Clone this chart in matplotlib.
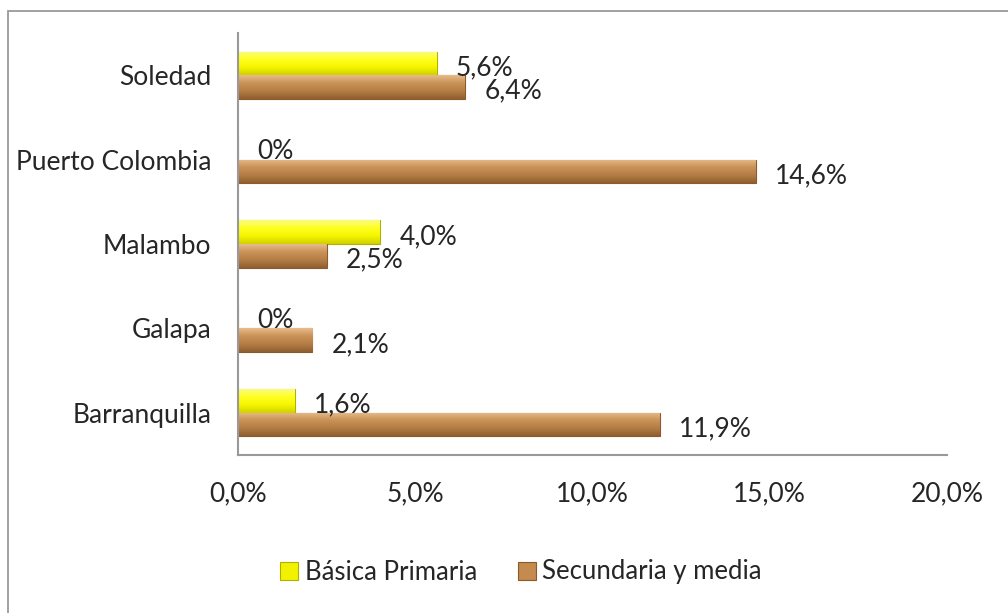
import numpy as np
import matplotlib
matplotlib.use("Agg")
import matplotlib.pyplot as plt
from matplotlib.colors import LinearSegmentedColormap
from matplotlib.patches import Rectangle

# data (percent)
ciudades = ["Barranquilla", "Galapa", "Malambo", "Puerto Colombia", "Soledad"]
basica = [1.6, 0.0, 4.0, 0.0, 5.6]
secundaria = [11.9, 2.1, 2.5, 14.6, 6.4]
lbl_basica = ["1,6%", "0%", "4,0%", "0%", "5,6%"]
lbl_secundaria = ["11,9%", "2,1%", "2,5%", "14,6%", "6,4%"]
xticks = [0, 5, 10, 15, 20]
xtick_labels = ["0,0%", "5,0%", "10,0%", "15,0%", "20,0%"]

plt.rcParams['font.family'] = ['Lato', 'DejaVu Sans']
txt = '#262626'
fs = 19

fig = plt.figure(figsize=(10.08, 6.13), dpi=100)
ax = fig.add_axes([238/1008, 1 - 455/613, (947 - 238)/1008, (455 - 33)/613])

# outer chart frame (runs off the right/bottom edge like the original)
fig.patches.append(Rectangle((8/1008, -0.2), 1.2, 1.2 - 11/613, transform=fig.transFigure,
                             fill=False, edgecolor='#9a9a9a', lw=1.3))

y = np.arange(len(ciudades))
h = 0.28
b1 = ax.barh(y + h/2, basica, height=h, color='#f2f200', edgecolor='#b0b000', lw=0.8, zorder=2)
b2 = ax.barh(y - h/2, secundaria, height=h, color='#c48a4f', edgecolor='#8a5a2c', lw=0.8, zorder=2)

# soft vertical gradient on the bars
cm_yel = LinearSegmentedColormap.from_list('y', ['#d0d000', '#f5f500', '#ffff20', '#fbfb80'])
cm_brn = LinearSegmentedColormap.from_list('b', ['#8f5f30', '#b57d45', '#c99257', '#e8bb8a'])
grad = np.linspace(0, 1, 64).reshape(-1, 1)
for bars, cm in ((b1, cm_yel), (b2, cm_brn)):
    for p in bars:
        x0, y0 = p.get_x(), p.get_y()
        w, hh = p.get_width(), p.get_height()
        if w <= 0:
            continue
        im = ax.imshow(grad, cmap=cm, aspect='auto', origin='lower',
                       extent=(x0, x0 + w, y0, y0 + hh), zorder=2.5)
        im.set_clip_path(p)
ax.set_xlim(0, 20)
ax.set_ylim(-0.5, len(ciudades) - 0.5)

for i in range(len(ciudades)):
    ax.annotate(lbl_basica[i], (basica[i], y[i] + h/2), xytext=(14, -3), textcoords='offset points',
                ha='left', va='center', fontsize=fs, color=txt, zorder=4)
    ax.annotate(lbl_secundaria[i], (secundaria[i], y[i] - h/2), xytext=(14, -3), textcoords='offset points',
                ha='left', va='center', fontsize=fs, color=txt, zorder=4)

ax.set_yticks(y)
ax.set_yticklabels(ciudades, fontsize=fs, color=txt)
ax.set_xticks(xticks)
ax.set_xticklabels(xtick_labels, fontsize=fs, color=txt)
ax.tick_params(axis='y', length=0, pad=19)
ax.tick_params(axis='x', length=0, pad=19)

for s in ['top', 'right']:
    ax.spines[s].set_visible(False)
for s in ['left', 'bottom']:
    ax.spines[s].set_color('#999999')
    ax.spines[s].set_linewidth(1.5)

leg = fig.legend([b1, b2], ["Básica Primaria", "Secundaria y media"], loc='center',
                 bbox_to_anchor=(521/1008, 1 - 572/613), ncol=2, frameon=False,
                 fontsize=18.5, handlelength=0.7, handleheight=0.7, handletextpad=0.25,
                 columnspacing=1.6)
for t in leg.get_texts():
    t.set_color(txt)

fig.savefig("out.png", dpi=100)
